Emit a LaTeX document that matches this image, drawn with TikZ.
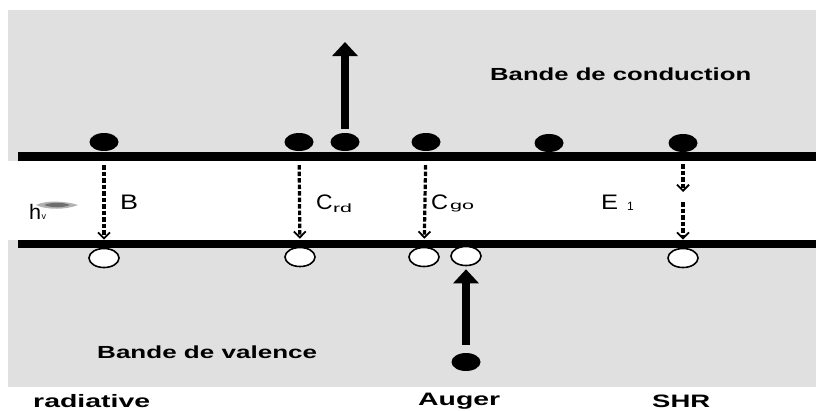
\documentclass[tikz,border=0pt]{standalone}
\usepackage{graphicx}
\usepackage{fontspec}
\setmainfont{Liberation Sans}
\usetikzlibrary{arrows.meta,shapes.geometric}

\definecolor{panel}{HTML}{E0E0E0}

% set #2 at its natural height, stretched horizontally to the width #1 (in pt)
\newcommand\hfitbox[2]{\setbox0=\hbox{#2}%
  \pgfmathsetmacro\hfitratio{#1/\the\wd0}%
  \scalebox{\hfitratio}[1]{\box0}}

\begin{document}
\begin{tikzpicture}[x=1pt,y=-1pt,
  electron/.style={ellipse, fill=black, minimum width=29pt, minimum height=18pt, inner sep=0pt},
  hole/.style={ellipse, draw=black, line width=1.6pt, fill=white, minimum width=30pt, minimum height=19pt, inner sep=0pt},
  recomb/.style={line width=3.2pt, dash pattern=on 4.5pt off 2pt,
    -{Straight Barb[length=6pt,width=12pt,line width=1.8pt]}},
  kick/.style={line width=8.5pt, -{Triangle[length=14pt,width=25pt]}},
  bandlabel/.style={anchor=west, inner sep=0pt, font=\bfseries\fontsize{17.5}{20}\selectfont},
  kindlabel/.style={anchor=west, inner sep=0pt, font=\bfseries\fontsize{18}{20}\selectfont},
  translabel/.style={anchor=west, inner sep=0pt, font=\fontsize{21}{24}\selectfont},
  sublabel/.style={anchor=west, inner sep=0pt, font=\fontsize{12}{14}\selectfont},
]
\useasboundingbox (0,0) rectangle (816,410);

% page, grey panel and the white gap between the two bands
\fill[white] (0,0) rectangle (816,410);
\fill[panel] (8,10) rectangle (816,387);
\fill[white] (8,161) rectangle (816,240);

% band edges
\fill[black] (18,152) rectangle (816,161);
\fill[black] (18,240) rectangle (816,248);

% band names
\node[bandlabel] (cb) at (490,74) {\hfitbox{261}{Bande de conduction}};
\node[bandlabel] (vb) at (97,352) {\hfitbox{220}{Bande de valence}};

% electrons at the conduction band edge
\node[electron] (e1) at (104,142) {};
\node[electron] (e2) at (299,142) {};
\node[electron] (e3) at (345,142) {};
\node[electron] (e4) at (426,142) {};
\node[electron] (e5) at (549,143) {};
\node[electron] (e6) at (683,143) {};
% electron that is kicked into the valence band (Auger)
\node[electron] (e7) at (466,362) {};

% holes at the valence band edge
\node[hole] (h1) at (104,258) {};
\node[hole] (h2) at (300,257) {};
\node[hole] (h3) at (424,257) {};
\node[hole] (h4) at (466,256) {};
\node[hole] (h5) at (683,258) {};

% recombination transitions
\draw[recomb, shorten <=14pt, shorten >=8pt] (e1) -- (h1);
\draw[recomb, shorten <=14pt, shorten >=8pt] (e2) -- (h2);
\draw[recomb, shorten <=14pt, shorten >=8pt] (e4) -- (h3);
\coordinate (trap) at (683,197);
\draw[recomb, shorten <=12pt, shorten >=5pt] (e6) -- (trap);
\draw[recomb, shorten <=5pt, shorten >=8pt] (trap) -- (h5);

% Auger energy transfer
\coordinate (escape) at (345,42);
\draw[kick, shorten <=4pt] (e3) -- (escape);
\draw[kick, shorten <=8pt, shorten >=3pt] (e7) -- (h4);

% transition labels
\node[translabel] (lB) at (120,202) {\hfitbox{18}{B}};
\node[translabel] (lC1) at (316,202) {\hfitbox{16.5}{C}};
\node[sublabel] (lrd) at (lC1.east |- 0,208) {\hfitbox{19}{rd}};
\node[translabel] (lC2) at (431,202) {\hfitbox{17}{C}};
\node[sublabel] (lgo) at (450,208) {\hfitbox{24}{go}};
\node[translabel] (lE) at (601,202) {\hfitbox{17}{E}};
\node[sublabel] (l1) at (627,206) {1};

% photon h nu with its smudge
\fill[black!55, opacity=0.55] (36,205) .. controls (46,200) and (66,201) .. (78,205)
  .. controls (66,210) and (46,210) .. (36,205) -- cycle;
\fill[black!75, opacity=0.6] (44,205) .. controls (52,202) and (62,202) .. (70,205)
  .. controls (62,208) and (52,208) .. (44,205) -- cycle;
\node[translabel] (lh) at (29,212) {\hfitbox{12}{h}};
\node[anchor=west, inner sep=0pt, font=\fontsize{9}{10}\selectfont] (lv) at (lh.east |- 0,217) {v};

% mechanism names
\node[kindlabel] (kr) at (33,401) {\hfitbox{117}{radiative}};
\node[kindlabel] (ka) at (418,401) {\hfitbox{82}{Auger}};
\node[kindlabel] (ks) at (652,401) {\hfitbox{58}{SHR}};
\end{tikzpicture}
\end{document}
